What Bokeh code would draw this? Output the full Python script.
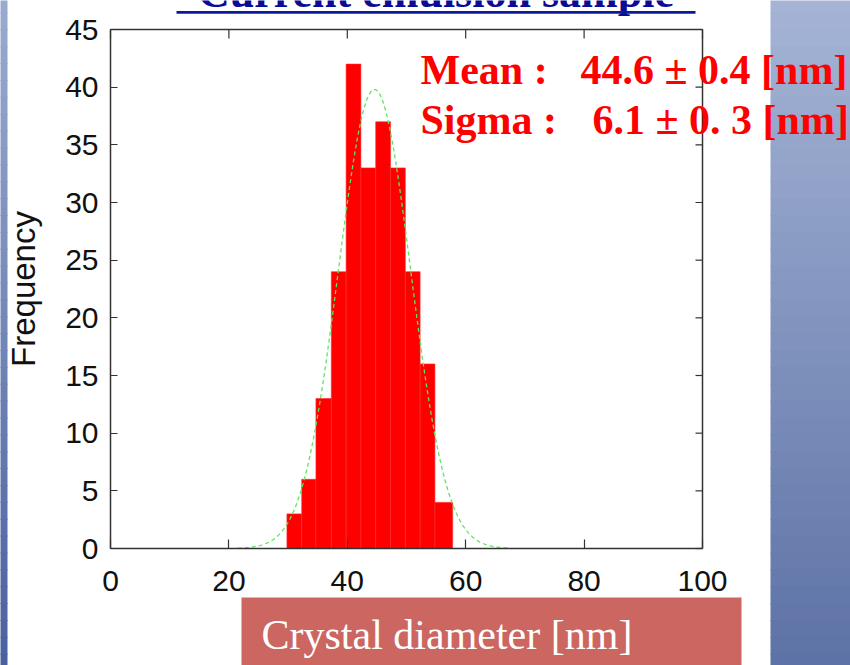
import numpy as np
from bokeh.plotting import figure
from bokeh.models import LinearAxis, FixedTicker, BoxAnnotation, Label, Range1d
from bokeh.embed import file_html
from bokeh.resources import INLINE

# ---------------- data ----------------
bin_edges = [29.8, 32.3, 34.7, 37.3, 39.8, 42.3, 44.8, 47.3, 49.8, 52.3, 54.8, 57.8]
counts = [3, 6, 13, 24, 42, 33, 37, 33, 24, 16, 4]
fit_mean = 44.6
fit_sigma = 6.1
fit_peak = 39.8
fit_range = [21.5, 67.5]
x_ticks = [0, 20, 40, 60, 80, 100]
y_ticks = [0, 5, 10, 15, 20, 25, 30, 35, 40, 45]
title_text = "Current emulsion sample"
xlabel_text = "Crystal diameter [nm]"
ylabel_text = "Frequency"
mean_label, mean_value = "Mean :", "44.6 \u00b1 0.4 [nm]"
sigma_label, sigma_value = "Sigma :", "6.1 \u00b1 0. 3 [nm]"

# ---------------- layout ----------------
W, H = 850, 665
FL, FR, FT, FB = 110, 702, 29, 548          # pixel edges of the plot box
XMIN, XMAX, YMIN, YMAX = 0, 100, 0, 45
SX = (FR - FL) / (XMAX - XMIN)
SY = (FB - FT) / (YMAX - YMIN)


def dx(px):
    return XMIN + (px - FL) / SX


def dy(py):
    return YMIN + (FB - py) / SY


# frame covers the whole canvas; the plot box is drawn with fixed-location axes
p = figure(width=W, height=H, x_range=Range1d(dx(0), dx(W)), y_range=Range1d(dy(H), dy(0)),
           output_backend="svg", toolbar_location=None,
           x_axis_location=None, y_axis_location=None, min_border=0)
p.background_fill_color = "white"
p.border_fill_color = "white"
p.outline_line_color = None
p.grid.visible = False

FRAME = "#333333"
TICKFONT = "30px"

xa = LinearAxis(ticker=FixedTicker(ticks=x_ticks), fixed_location=YMIN, bounds=(XMIN, XMAX),
                major_tick_in=9, major_tick_out=0, minor_tick_line_color=None,
                axis_line_color=FRAME, axis_line_width=1.5,
                major_tick_line_color=FRAME, major_tick_line_width=1.2,
                major_label_standoff=22, major_label_text_font="Liberation Sans",
                major_label_text_font_size=TICKFONT, major_label_text_color="#111111")
p.add_layout(xa, "below")

ya = LinearAxis(ticker=FixedTicker(ticks=y_ticks), fixed_location=XMIN, bounds=(YMIN, YMAX),
                major_tick_in=7, major_tick_out=0, minor_tick_line_color=None,
                axis_line_color=FRAME, axis_line_width=1.5,
                major_tick_line_color=FRAME, major_tick_line_width=1.2,
                major_label_standoff=12, major_label_text_font="Liberation Sans",
                major_label_text_font_size=TICKFONT, major_label_text_color="#111111",
                axis_label=ylabel_text, axis_label_text_font="Liberation Sans",
                axis_label_text_font_size="33px", axis_label_text_font_style="normal",
                axis_label_text_color="#111111", axis_label_standoff=20)
p.add_layout(ya, "left")

# top and right edges of the box with inward ticks
p.segment(x0=[XMIN, XMAX], y0=[YMAX, YMIN], x1=[XMAX, XMAX], y1=[YMAX, YMAX],
          line_color=FRAME, line_width=1.5)
p.segment(x0=x_ticks, y0=[YMAX] * len(x_ticks), x1=x_ticks,
          y1=[YMAX - 9 / SY] * len(x_ticks), line_color=FRAME, line_width=1.2)
p.segment(x0=[XMAX] * len(y_ticks), y0=y_ticks, x1=[XMAX - 7 / SX] * len(y_ticks),
          y1=y_ticks, line_color=FRAME, line_width=1.2)

# ---------------- slide background (decoration) ----------------
def lerp_color(c0, c1, t):
    a = [int(c0[i:i + 2], 16) for i in (1, 3, 5)]
    b = [int(c1[i:i + 2], 16) for i in (1, 3, 5)]
    return "#%02x%02x%02x" % tuple(round(a[k] + (b[k] - a[k]) * t) for k in range(3))


NSTRIP = 40
for i in range(NSTRIP):
    y0 = -5 + i * (H + 10) / NSTRIP
    y1 = y0 + (H + 10) / NSTRIP + 1
    t = i / (NSTRIP - 1)
    p.add_layout(BoxAnnotation(left=dx(770), right=dx(W + 20), top=dy(y0), bottom=dy(y1),
                               fill_color=lerp_color("#a5b4d5", "#5d72a6", t), fill_alpha=1,
                               line_color=None, level="underlay"))
    p.add_layout(BoxAnnotation(left=dx(-20), right=dx(7), top=dy(y0), bottom=dy(y1),
                               fill_color=lerp_color("#9aabcf", "#4a61a0", t), fill_alpha=1,
                               line_color=None, level="underlay"))

# red caption box
p.add_layout(BoxAnnotation(left=dx(241), right=dx(741), top=dy(597), bottom=dy(H + 20),
                           fill_color="#cc6660", fill_alpha=1, line_color=None, level="underlay"))

# ---------------- histogram + fit ----------------
p.quad(left=bin_edges[:-1], right=bin_edges[1:], top=counts, bottom=0,
       fill_color="#ff0000", line_color="#ff2a2a", line_width=0.6)

xs = np.linspace(fit_range[0], fit_range[1], 300)
ys = fit_peak * np.exp(-0.5 * ((xs - fit_mean) / fit_sigma) ** 2)
p.line(xs, ys, line_color="#5ee65e", line_width=1.3, line_dash="4 3")

# ---------------- texts (y = vertical middle of the text line) ----------------
p.add_layout(Label(x=dx(435.5), y=dy(-8), text=title_text, text_font="Liberation Serif",
                   text_font_style="bold", text_font_size="44px", text_color="#0b0b96",
                   text_align="center", text_baseline="middle"))
p.add_layout(BoxAnnotation(left=dx(176), right=dx(695), top=dy(10.5), bottom=dy(13.3),
                           fill_color="#0b1a9a", fill_alpha=1, line_color=None))

for txt, px, py in [(mean_label, 420, 69), (mean_value, 580, 69),
                    (sigma_label, 420, 119), (sigma_value, 592, 119)]:
    p.add_layout(Label(x=dx(px), y=dy(py), text=txt, text_font="Liberation Serif",
                       text_font_style="bold", text_font_size="42px", text_color="#ff0000",
                       text_align="left", text_baseline="middle"))

p.add_layout(Label(x=dx(261), y=dy(634), text=xlabel_text, text_font="Liberation Serif",
                   text_font_style="normal", text_font_size="42px", text_color="#ffffff",
                   text_align="left", text_baseline="middle"))

open("out.html", "w").write(file_html(p, INLINE))
